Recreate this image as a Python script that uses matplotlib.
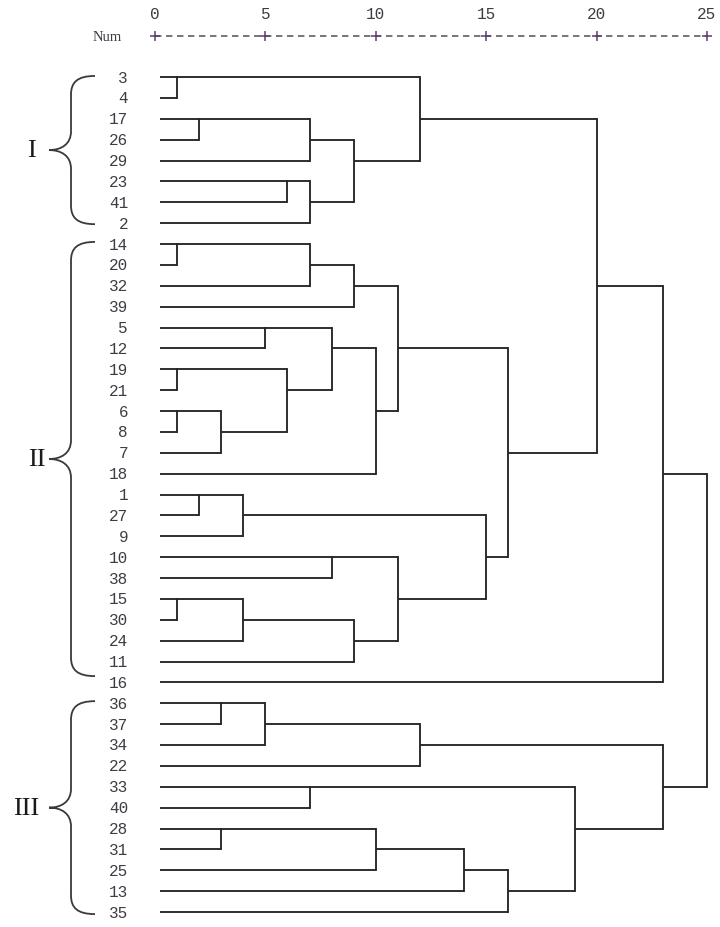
import math
import matplotlib
matplotlib.use("Agg")
import matplotlib.pyplot as plt
from matplotlib.path import Path
from matplotlib.patches import PathPatch

# ---------------- data ----------------
leaf_labels = [3, 4, 17, 26, 29, 23, 41, 2, 14, 20, 32, 39, 5, 12, 19, 21, 6, 8, 7, 18,
               1, 27, 9, 10, 38, 15, 30, 24, 11, 16, 36, 37, 34, 22, 33, 40, 28, 31, 25, 13, 35]

# agglomeration schedule: (member of cluster A, member of cluster B, rescaled distance)
merge_a = [3, 14, 19, 6, 15, 17, 1, 6, 36, 28, 1, 15, 5, 36, 23, 19, 17, 23, 14, 33,
           5, 10, 17, 14, 15, 5, 28, 14, 10, 3, 36, 28, 1, 14, 28, 33, 3, 3, 36, 3]
merge_b = [4, 20, 21, 8, 30, 26, 27, 7, 37, 31, 9, 24, 12, 34, 41, 6, 29, 2, 32, 40,
           19, 38, 23, 39, 11, 18, 25, 5, 15, 17, 22, 13, 10, 1, 35, 28, 14, 16, 33, 36]
merge_h = [1, 1, 1, 1, 1, 2, 2, 3, 3, 3, 4, 4, 5, 5, 6, 6, 7, 7, 7, 7,
           8, 8, 9, 9, 9, 10, 10, 11, 11, 12, 12, 14, 15, 16, 16, 19, 20, 23, 23, 25]

axis_ticks = [0, 5, 10, 15, 20, 25]

groups = ["I", "II", "III"]
group_top = [-0.05, 7.9, 29.9]      # rows spanned by each brace
group_bot = [7.05, 28.7, 40.1]

# ---------------- figure ----------------
W, H = 720, 928
fig = plt.figure(figsize=(W / 100, H / 100), dpi=100)
ax = fig.add_axes([0, 0, 1, 1])
ax.set_axis_off()

px_per_unit = 22.08
px_per_row = 20.875
x0 = -155 / px_per_unit
ax.set_xlim(x0, x0 + W / px_per_unit)
y0 = -78 / px_per_row
ax.set_ylim(y0 + H / px_per_row, y0)

LINE = "#262626"
TXT = "#3c3c44"
mono = ["Liberation Mono", "DejaVu Sans Mono"]
serif = ["Liberation Serif", "DejaVu Serif"]

leaf_start = 0.23

row_of = {lab: i for i, lab in enumerate(leaf_labels)}
cluster_of = {lab: lab for lab in leaf_labels}
state = {lab: (row_of[lab], leaf_start) for lab in leaf_labels}
members = {lab: [lab] for lab in leaf_labels}
next_id = 1000

order = sorted(range(len(merge_h)), key=lambda i: merge_h[i])
for i in order:
    ca = cluster_of[merge_a[i]]
    cb = cluster_of[merge_b[i]]
    h = merge_h[i]
    ra, xa = state[ca]
    rb, xb = state[cb]
    ax.plot([xa, h], [ra, ra], color=LINE, lw=1.35, solid_capstyle="butt")
    ax.plot([xb, h], [rb, rb], color=LINE, lw=1.35, solid_capstyle="butt")
    ax.plot([h, h], [min(ra, rb), max(ra, rb)], color=LINE, lw=1.35)
    new_row = math.floor((ra + rb) / 2)
    nid = next_id
    next_id += 1
    state[nid] = (new_row, h)
    members[nid] = members[ca] + members[cb]
    for m in members[nid]:
        cluster_of[m] = nid

# leaf labels
for i, lab in enumerate(leaf_labels):
    ax.text(-1.22, i, str(lab), ha="right", va="center", fontsize=11.5,
            family=mono, color=TXT)

# top scale
axis_row = (37 - 78) / px_per_row
num_row = (14 - 78) / px_per_row
ax.plot([axis_ticks[0], axis_ticks[-1]], [axis_row, axis_row], color="#50505a",
        lw=1.1, linestyle=(0, (4.2, 3.0)))
ax.plot(axis_ticks, [axis_row] * len(axis_ticks), linestyle="none", marker="+",
        markersize=6.5, mew=1.1, color="#5a3f6e")
for t in axis_ticks:
    ax.text(t, num_row, str(t), ha="center", va="center", fontsize=11.5,
            family=mono, color=TXT)
ax.text((107 - 155) / px_per_unit, axis_row, "Num", ha="center", va="center",
        fontsize=10.5, family=serif, color=TXT)

# braces
x_tip = (95 - 155) / px_per_unit
x_spine = (71 - 155) / px_per_unit
x_point = (49 - 155) / px_per_unit
r = 0.9
label_x = [(31 - 155) / px_per_unit, (37 - 155) / px_per_unit, (26 - 155) / px_per_unit]
for g, top, bot, lx in zip(groups, group_top, group_bot, label_x):
    mid = (top + bot) / 2
    verts = [
        (x_tip, top),
        (x_spine + (x_tip - x_spine) * 0.25, top), (x_spine, top + r * 0.35), (x_spine, top + r),
        (x_spine, mid - r),
        (x_spine, mid - r * 0.3), (x_spine - (x_spine - x_point) * 0.45, mid), (x_point, mid),
        (x_spine - (x_spine - x_point) * 0.45, mid), (x_spine, mid + r * 0.3), (x_spine, mid + r),
        (x_spine, bot - r),
        (x_spine, bot - r * 0.35), (x_spine + (x_tip - x_spine) * 0.25, bot), (x_tip, bot),
    ]
    codes = [Path.MOVETO,
             Path.CURVE4, Path.CURVE4, Path.CURVE4,
             Path.LINETO,
             Path.CURVE4, Path.CURVE4, Path.CURVE4,
             Path.CURVE4, Path.CURVE4, Path.CURVE4,
             Path.LINETO,
             Path.CURVE4, Path.CURVE4, Path.CURVE4]
    ax.add_patch(PathPatch(Path(verts, codes), fill=False, edgecolor="#3a3a3a", lw=1.3))
    ax.text(lx, mid, g, ha="center", va="center", fontsize=19, family=serif,
            color="#1a1a1a")

fig.savefig("out.png", dpi=100, facecolor="white")
